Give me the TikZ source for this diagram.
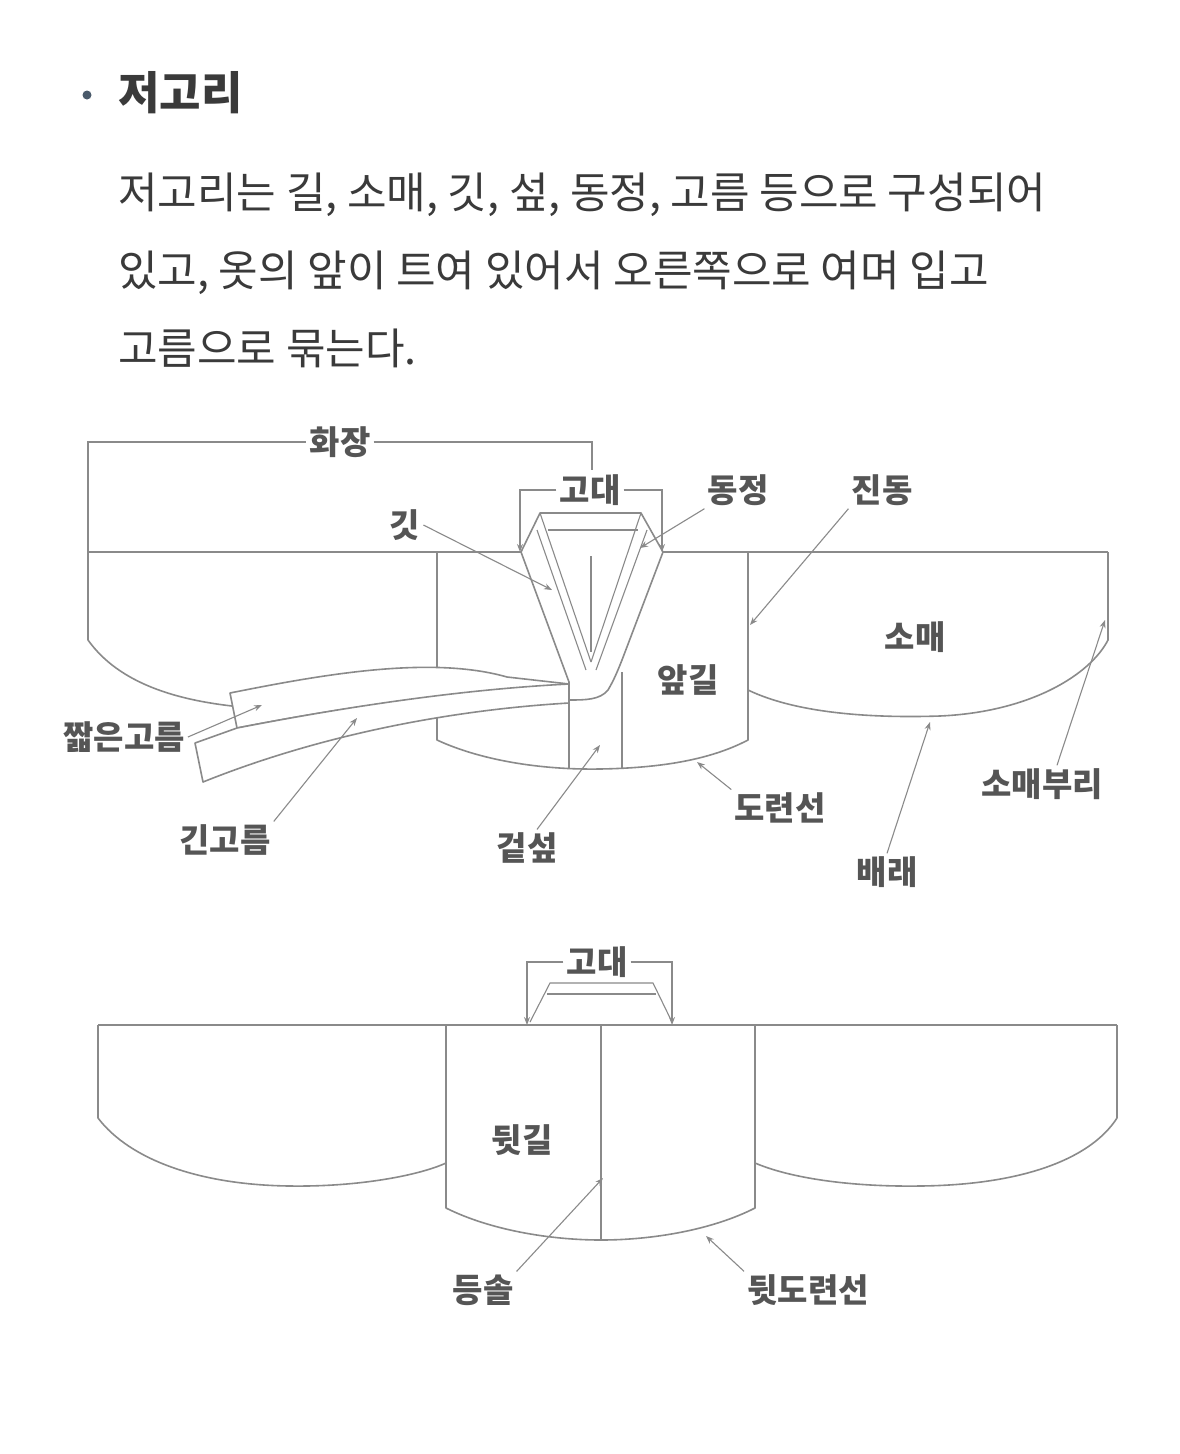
\documentclass[tikz,border=0pt]{standalone}
\usepackage{fontspec}
\setmainfont{Noto Sans CJK KR}
\usetikzlibrary{arrows.meta}
\definecolor{ln}{HTML}{8A8A8A}
\definecolor{lb}{HTML}{555555}
\definecolor{tx}{HTML}{3A3A3A}
\definecolor{dot}{HTML}{4A5A6A}
\begin{document}
\begin{tikzpicture}[x=1pt,y=-1pt,
  shp/.style={draw=ln,line width=1.6pt,line join=round},
  thn/.style={draw=ln,line width=1.1pt},
  lab/.style={text=lb,font=\fontsize{33}{33}\selectfont\bfseries,inner sep=3pt},
  arr/.style={draw=ln,line width=1.1pt,-{Stealth[length=8pt,width=6pt]}},
  body/.style={text=tx,font=\fontsize{43}{43}\selectfont,anchor=base west,inner sep=0pt}]
\useasboundingbox[fill=white] (0,0) rectangle (1179,1454);
% header
\fill[dot] (87,95) circle (4.5);
\node[anchor=base west,inner sep=0pt,text=tx,font=\fontsize{45}{45}\selectfont\bfseries] (title) at (118,109) {저고리};
\node[body] (l1) at (118,208) {저고리는 길, 소매, 깃, 섶, 동정, 고름 등으로 구성되어};
\node[body] (l2) at (118,286) {있고, 옷의 앞이 트여 있어서 오른쪽으로 여며 입고};
\node[body] (l3) at (118,364) {고름으로 묶는다.};

% ===== top diagram =====
\draw[shp] (88,552) -- (1108,552);
% left sleeve
\draw[shp] (88,552) -- (88,640) .. controls (120,685) and (180,700) .. (232,706);
% body
\draw[shp] (437,552) -- (437,740) .. controls (480,760) and (540,770) .. (600,769) .. controls (660,768) and (710,760) .. (748,740) -- (748,552);
% right sleeve
\draw[shp] (748,690) .. controls (800,715) and (880,718) .. (940,716) .. controls (1030,712) and (1090,675) .. (1108,640) -- (1108,552);
% geotseop
\draw[thn] (569,680) -- (569,768);
\draw[thn] (622,672) -- (622,768);
% collar
\draw[shp,fill=white] (540,513) -- (521,552) -- (569,682) -- (569,700) .. controls (585,700) and (600,700) .. (608,690) .. controls (614,680) and (618,670) .. (622,660) -- (663,552) -- (641,513) -- cycle;
\draw[thn] (540,513) -- (591,662);
\draw[thn] (537,530) -- (586,670);
\draw[thn] (641,513) -- (591,662);
\draw[thn] (647,530) -- (596,670);
\draw[thn] (548,530) -- (638,530);
\draw[thn] (591,556) -- (591,652);
% ribbons
\draw[shp,fill=white] (230,693) .. controls (320,675) and (430,655) .. (507,677) -- (569,684) -- (569,690) .. controls (450,690) and (330,710) .. (237,728) -- cycle;
\draw[shp,fill=white] (195,743) -- (237,728) .. controls (330,710) and (450,690) .. (569,684) -- (569,703) .. controls (450,710) and (320,735) .. (203,782) -- cycle;

% dimension brackets
\node[lab] (hwajang) at (340,442) {화장};
\draw[thn] (88,552) -- (88,442) -- (hwajang.west);
\draw[thn] (hwajang.east) -- (592,442) -- (592,470);
\node[lab] (godae) at (590,490) {고대};
\coordinate (gdL) at (520,552);
\coordinate (gdR) at (662,552);
\draw[arr] (godae.west) -| (gdL);
\draw[arr] (godae.east) -| (gdR);
% labels
\node[lab] (dongjeong) at (738,490) {동정};
\coordinate (dongjeongP) at (640,548);
\draw[arr] (dongjeong.south west) -- (dongjeongP);
\node[lab] (git) at (405,525) {깃};
\coordinate (gitP) at (552,590);
\draw[arr] (git.east) -- (gitP);
\node[lab] (jindong) at (882,490) {진동};
\coordinate (jindongP) at (750,625);
\draw[arr] (jindong.south west) -- (jindongP);
\node[lab] (somae) at (915,637) {소매};
\node[lab] (apgil) at (688,680) {앞길};
\node[lab] (jjalbeun) at (124,737) {짧은고름};
\coordinate (jjalP) at (262,705);
\draw[arr] (jjalbeun.east) -- (jjalP);
\node[lab] (gin) at (225,840) {긴고름};
\coordinate (ginP) at (357,718);
\draw[arr] (gin.north east) -- (ginP);
\node[lab] (geotseop) at (527,848) {겉섶};
\coordinate (geotP) at (600,745);
\draw[arr] (geotseop.north) ++(10,0) -- (geotP);
\node[lab] (doryeon) at (780,808) {도련선};
\coordinate (doryeonP) at (697,762);
\draw[arr] (doryeon.north west) -- (doryeonP);
\node[lab] (baerae) at (887,872) {배래};
\coordinate (baeraeP) at (930,722);
\draw[arr] (baerae.north) -- (baeraeP);
\node[lab] (somaeburi) at (1042,784) {소매부리};
\coordinate (buriP) at (1105,620);
\draw[arr] (somaeburi.north) ++(15,0) -- (buriP);

% ===== bottom diagram =====
\draw[shp] (98,1025) -- (1117,1025);
\draw[shp] (98,1025) -- (98,1118) .. controls (130,1160) and (200,1185) .. (290,1186) .. controls (360,1187) and (420,1175) .. (446,1163);
\draw[shp] (446,1025) -- (446,1208) .. controls (490,1230) and (550,1240) .. (601,1240) .. controls (652,1240) and (712,1230) .. (755,1208) -- (755,1025);
\draw[thn] (601,1025) -- (601,1240);
\draw[shp] (755,1163) .. controls (790,1178) and (850,1187) .. (920,1186) .. controls (1020,1185) and (1090,1160) .. (1117,1118) -- (1117,1025);
% collar back
\draw[thn] (530,1022) -- (550,983) -- (653,983) -- (672,1022);
\draw[thn] (547,994) -- (656,994);
\node[lab] (godae2) at (597,962) {고대};
\coordinate (gd2L) at (527,1025);
\coordinate (gd2R) at (672,1025);
\draw[arr] (godae2.west) -| (gd2L);
\draw[arr] (godae2.east) -| (gd2R);
\node[lab] (dwitgil) at (522,1140) {뒷길};
\node[lab] (deungsol) at (483,1290) {등솔};
\coordinate (deungP) at (603,1178);
\draw[arr] (deungsol.north east) -- (deungP);
\node[lab] (dwitdoryeon) at (808,1290) {뒷도련선};
\coordinate (dwitP) at (706,1236);
\draw[arr] (dwitdoryeon.north west) -- (dwitP);
\end{tikzpicture}
\end{document}
